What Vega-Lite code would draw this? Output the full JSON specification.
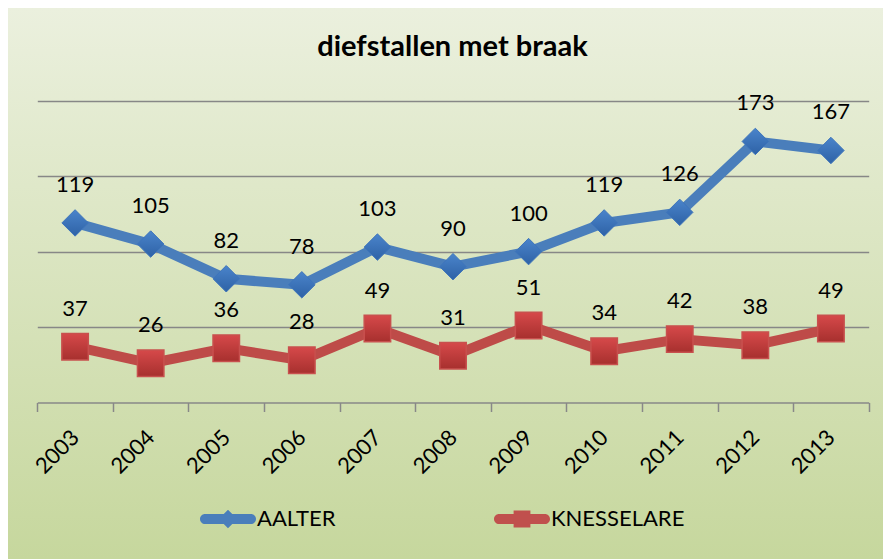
{
  "$schema": "https://vega.github.io/schema/vega-lite/v6.json",
  "width": 875,
  "height": 551,
  "autosize": {"type": "none"},
  "padding": {"left": 8, "top": 8, "right": 0, "bottom": 0},
  "background": "white",
  "view": {
    "stroke": null,
    "fill": {"gradient": "linear", "x1": 0, "y1": 0, "x2": 0, "y2": 1,
      "stops": [{"offset": 0, "color": "#ebf0de"}, {"offset": 1, "color": "#c6d79d"}]}
  },
  "title": {
    "text": "diefstallen met braak",
    "font": "Lato", "fontSize": 29, "fontWeight": "bold", "color": "black",
    "anchor": "middle", "baseline": "alphabetic", "offset": -77, "dx": 7
  },
  "data": {
    "values": [
      {"year": "2003", "series": "AALTER", "value": 119},
      {"year": "2004", "series": "AALTER", "value": 105},
      {"year": "2005", "series": "AALTER", "value": 82},
      {"year": "2006", "series": "AALTER", "value": 78},
      {"year": "2007", "series": "AALTER", "value": 103},
      {"year": "2008", "series": "AALTER", "value": 90},
      {"year": "2009", "series": "AALTER", "value": 100},
      {"year": "2010", "series": "AALTER", "value": 119},
      {"year": "2011", "series": "AALTER", "value": 126},
      {"year": "2012", "series": "AALTER", "value": 173},
      {"year": "2013", "series": "AALTER", "value": 167},
      {"year": "2003", "series": "KNESSELARE", "value": 37},
      {"year": "2004", "series": "KNESSELARE", "value": 26},
      {"year": "2005", "series": "KNESSELARE", "value": 36},
      {"year": "2006", "series": "KNESSELARE", "value": 28},
      {"year": "2007", "series": "KNESSELARE", "value": 49},
      {"year": "2008", "series": "KNESSELARE", "value": 31},
      {"year": "2009", "series": "KNESSELARE", "value": 51},
      {"year": "2010", "series": "KNESSELARE", "value": 34},
      {"year": "2011", "series": "KNESSELARE", "value": 42},
      {"year": "2012", "series": "KNESSELARE", "value": 38},
      {"year": "2013", "series": "KNESSELARE", "value": 49}
    ]
  },
  "encoding": {
    "x": {
      "field": "year", "type": "ordinal",
      "scale": {"type": "band", "range": [29.3, 860.7], "paddingInner": 0, "paddingOuter": 0},
      "axis": {
        "title": null, "offset": -156.5,
        "domainColor": "#888888", "domainWidth": 1.5,
        "tickColor": "#888888", "tickWidth": 1.5, "tickSize": 9, "tickBand": "extent",
        "labelFont": "Lato", "labelFontSize": 22, "labelColor": "black",
        "labelAngle": -45, "labelAlign": "right", "labelBaseline": "middle", "labelPadding": 22,
        "grid": false
      }
    },
    "y": {
      "field": "value", "type": "quantitative",
      "scale": {"domain": [0, 200], "range": [394.5, 92.7], "nice": false, "zero": true},
      "axis": {
        "title": null, "labels": false, "ticks": false, "domain": false,
        "grid": true, "values": [50, 100, 150, 200],
        "gridColor": "#878787", "gridWidth": 1.5, "gridOpacity": 1
      }
    }
  },
  "layer": [
    {
      "mark": {"type": "line", "strokeWidth": 10, "strokeJoin": "round"},
      "encoding": {
        "color": {
          "field": "series", "type": "nominal",
          "scale": {"domain": ["AALTER", "KNESSELARE"], "range": ["#4a7ebb", "#be4b48"]},
          "legend": {
            "orient": "none", "legendX": 192, "legendY": 483, "direction": "horizontal",
            "title": null, "padding": 0,
            "symbolSize": 3136, "symbolType": "square", "symbolStrokeWidth": 0,
            "labelFont": "Lato", "labelFontSize": 22, "labelColor": "black", "labelOffset": 1,
            "columnPadding": 158,
            "encode": {
              "symbols": {
                "update": {
                  "shape": {"signal": "datum.value === 'AALTER' ? 'M-0.82,-0.18L0.82,-0.18A0.18,0.18 0 0 1 0.82,0.18L-0.82,0.18A0.18,0.18 0 0 1 -0.82,-0.18Z M0,-0.33L0.33,0L0,0.33L-0.33,0Z' : 'M-0.82,-0.18L0.82,-0.18A0.18,0.18 0 0 1 0.82,0.18L-0.82,0.18A0.18,0.18 0 0 1 -0.82,-0.18Z M-0.3,-0.3L0.3,-0.3L0.3,0.3L-0.3,0.3Z'"},
                  "fill": {"signal": "datum.value === 'AALTER' ? '#4a7ebb' : '#c0504d'"},
                  "stroke": {"value": "transparent"},
                  "strokeWidth": {"value": 0},
                  "opacity": {"value": 1}
                }
              }
            }
          }
        }
      }
    },
    {
      "transform": [{"filter": "datum.series === 'AALTER'"}],
      "mark": {
        "type": "point", "shape": "diamond", "size": 700, "filled": true, "opacity": 1,
        "fill": {"gradient": "linear", "x1": 0, "y1": 0, "x2": 0, "y2": 1,
          "stops": [{"offset": 0, "color": "#4a84cb"}, {"offset": 1, "color": "#2e62a6"}]},
        "stroke": "#3d74bb", "strokeWidth": 1
      }
    },
    {
      "transform": [{"filter": "datum.series === 'KNESSELARE'"}],
      "mark": {
        "type": "point", "shape": "square", "size": 700, "filled": true, "opacity": 1,
        "fill": {"gradient": "linear", "x1": 0, "y1": 0, "x2": 0, "y2": 1,
          "stops": [{"offset": 0, "color": "#d6494a"}, {"offset": 1, "color": "#a7302e"}]},
        "stroke": "#c8504e", "strokeWidth": 1.5
      }
    },
    {
      "mark": {"type": "text", "font": "Lato", "fontSize": 22, "color": "black", "baseline": "alphabetic", "dy": -31},
      "encoding": {"text": {"field": "value", "type": "quantitative"}}
    }
  ]
}
